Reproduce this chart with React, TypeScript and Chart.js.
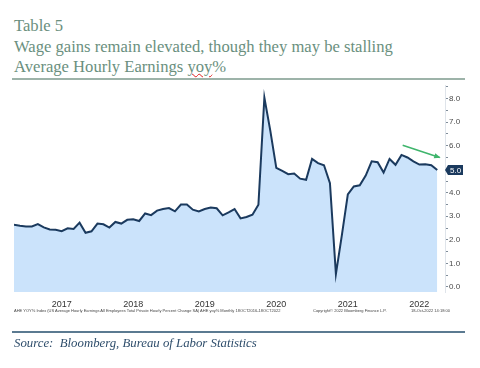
import React, { useEffect, useRef } from "react";
import { Chart, registerables } from "chart.js";

Chart.register(...registerables);

// Monthly AHE yoy %, Oct 2016 .. Sep 2022
const ahe: number[] = [
  2.64, 2.6, 2.57, 2.57, 2.67, 2.53, 2.44, 2.43, 2.37, 2.49, 2.46, 2.73,
  2.3, 2.36, 2.69, 2.66, 2.52, 2.76, 2.69, 2.85, 2.87, 2.8, 3.12, 3.05,
  3.24, 3.31, 3.35, 3.21, 3.5, 3.5, 3.28, 3.21, 3.31, 3.37, 3.34, 3.04,
  3.17, 3.31, 2.91, 2.97, 3.07, 3.49, 8.05, 6.63, 5.06, 4.93, 4.79, 4.82,
  4.6, 4.55, 5.44, 5.26, 5.17, 4.41, 0.54, 2.2, 3.93, 4.27, 4.32, 4.73,
  5.34, 5.3, 4.86, 5.44, 5.19, 5.61, 5.5, 5.34, 5.2, 5.21, 5.17, 4.97,
];
// year labels and the month index (from Oct 2016) at which they sit
const yearLabels: string[] = ["2017", "2018", "2019", "2020", "2021", "2022"];
const yearPos: number[] = [8, 20, 32, 44, 56, 68];
const yTickValues: number[] = [0, 0.5, 1, 1.5, 2, 2.5, 3, 3.5, 4, 4.5, 5, 5.5, 6, 6.5, 7, 7.5, 8, 8.5];
const lastLabel = "5.0";
const arrowFrom: [number, number] = [65.2, 6.02];
const arrowTo: [number, number] = [71.4, 5.5];

const navy = "#1b3a5e";

export default function App() {
  const ref = useRef<HTMLCanvasElement | null>(null);
  useEffect(() => {
    if (!ref.current) return;
    const overlay = {
      id: "overlay",
      afterDatasetsDraw(chart: any) {
        const { ctx, scales } = chart;
        const xs = scales.x, ys = scales.y;
        const x1 = xs.getPixelForValue(arrowFrom[0]);
        const y1 = ys.getPixelForValue(arrowFrom[1]);
        const x2 = xs.getPixelForValue(arrowTo[0]);
        const y2 = ys.getPixelForValue(arrowTo[1]);
        ctx.save();
        ctx.strokeStyle = "#3fb56c";
        ctx.fillStyle = "#3fb56c";
        ctx.lineWidth = 1.6;
        ctx.beginPath();
        ctx.moveTo(x1, y1);
        ctx.lineTo(x2, y2);
        ctx.stroke();
        const ang = Math.atan2(y2 - y1, x2 - x1);
        const hl = 6;
        ctx.beginPath();
        ctx.moveTo(x2 + 1, y2 + 0.3);
        ctx.lineTo(x2 - hl * Math.cos(ang - 0.45), y2 - hl * Math.sin(ang - 0.45));
        ctx.lineTo(x2 - hl * Math.cos(ang + 0.45), y2 - hl * Math.sin(ang + 0.45));
        ctx.closePath();
        ctx.fill();
        ctx.restore();
      },
      afterDraw(chart: any) {
        const { ctx, scales } = chart;
        const ys = scales.y;
        const last = ahe[ahe.length - 1];
        const py = ys.getPixelForValue(last);
        const bx = ys.left + 3;
        ctx.save();
        ctx.fillStyle = navy;
        ctx.beginPath();
        ctx.moveTo(bx - 3, py);
        ctx.lineTo(bx, py - 5);
        ctx.lineTo(bx + 15, py - 5);
        ctx.lineTo(bx + 15, py + 5);
        ctx.lineTo(bx, py + 5);
        ctx.closePath();
        ctx.fill();
        ctx.fillStyle = "#ffffff";
        ctx.font = "8px 'Liberation Sans', Arial, sans-serif";
        ctx.textBaseline = "middle";
        ctx.textAlign = "left";
        ctx.fillText(lastLabel, bx + 2, py + 0.5);
        ctx.restore();
      },
    };
    const chart = new Chart(ref.current, {
      type: "line",
      data: {
        datasets: [
          {
            data: ahe.map((v, i) => ({ x: i, y: v })),
            borderColor: navy,
            borderWidth: 2,
            backgroundColor: "#cbe3fb",
            fill: "start",
            pointRadius: 0,
            tension: 0,
          },
        ],
      },
      options: {
        responsive: false,
        animation: false,
        devicePixelRatio: 1,
        layout: { padding: { left: 14, top: 5, right: 0, bottom: 0 } },
        plugins: { legend: { display: false }, tooltip: { enabled: false } },
        scales: {
          x: {
            type: "linear",
            min: 0,
            max: 72.3,
            grid: { display: false, drawTicks: false },
            border: { display: false },
            afterBuildTicks: (s: any) => {
              s.ticks = yearPos.map((v) => ({ value: v }));
            },
            afterFit: (s: any) => {
              s.height = 28;
            },
            ticks: {
              padding: 7,
              autoSkip: false,
              maxRotation: 0,
              color: "#333333",
              font: { size: 9, family: "'Liberation Sans', Arial, sans-serif" },
              callback: (v: any) => {
                const k = yearPos.indexOf(Number(v));
                return k >= 0 ? yearLabels[k] : "";
              },
            },
          },
          y: {
            position: "right",
            min: -0.22,
            max: 8.55,
            grid: {
              drawOnChartArea: false,
              drawTicks: true,
              tickLength: 3,
              color: "#7f8c99",
            },
            border: { display: true, color: "#dfe4ea", width: 1 },
            afterBuildTicks: (s: any) => {
              s.ticks = yTickValues.map((v) => ({ value: v }));
            },
            afterFit: (s: any) => {
              s.width = 35;
            },
            ticks: {
              padding: 1,
              autoSkip: false,
              color: "#4a4a4a",
              font: { size: 8, family: "'Liberation Sans', Arial, sans-serif" },
              callback: (v: any) => (Number(v) % 1 === 0 ? Number(v).toFixed(1) : ""),
            },
          },
        },
      },
      plugins: [overlay],
    } as any);
    return () => chart.destroy();
  }, []);

  const titleStyle: React.CSSProperties = {
    position: "absolute",
    left: 14,
    margin: 0,
    fontFamily: "'Liberation Serif', 'Times New Roman', serif",
    fontSize: 16.6,
    color: "#6a8f7e",
    whiteSpace: "nowrap",
    lineHeight: "20px",
  };
  const tiny: React.CSSProperties = {
    position: "absolute",
    top: 308,
    fontFamily: "'Liberation Sans', Arial, sans-serif",
    fontSize: 4,
    color: "#444",
    whiteSpace: "nowrap",
    lineHeight: "5px",
  };

  return (
    <div style={{ position: "absolute", left: 0, top: 0, width: 480, height: 368, background: "#fff", overflow: "hidden" }}>
      <div style={{ ...titleStyle, top: 16 }}>Table 5</div>
      <div style={{ ...titleStyle, top: 37 }}>Wage gains remain elevated, though they may be stalling</div>
      <div style={{ ...titleStyle, top: 57 }}>
        Average Hourly Earnings{" "}
        <span style={{ textDecoration: "underline wavy #e02020", textDecorationThickness: 1 }}>yoy</span>%
      </div>
      <div style={{ position: "absolute", left: 12, top: 78, width: 453, height: 2, background: "#9db3a9" }} />
      <canvas ref={ref} width={480} height={240} style={{ position: "absolute", left: 0, top: 80, width: 480, height: 240 }} />
      <div style={{ ...tiny, left: 14 }}>
        AHE YOY% Index (US Average Hourly Earnings All Employees Total Private Hourly Percent Change SA) AHE yoy% Monthly 18OCT2016-18OCT2022
      </div>
      <div style={{ ...tiny, left: 313 }}>Copyright© 2022 Bloomberg Finance L.P.</div>
      <div style={{ ...tiny, left: 411 }}>18-Oct-2022 14:18:00</div>
      <div style={{ position: "absolute", left: 12, top: 331, width: 453, height: 2, background: "#5b7a91" }} />
      <div
        style={{
          position: "absolute",
          left: 14,
          top: 335,
          fontFamily: "'Liberation Serif', 'Times New Roman', serif",
          fontStyle: "italic",
          fontSize: 12.8,
          color: "#2e4d6b",
          whiteSpace: "pre",
          lineHeight: "16px",
        }}
      >
        {"Source:  Bloomberg, Bureau of Labor Statistics"}
      </div>
    </div>
  );
}
